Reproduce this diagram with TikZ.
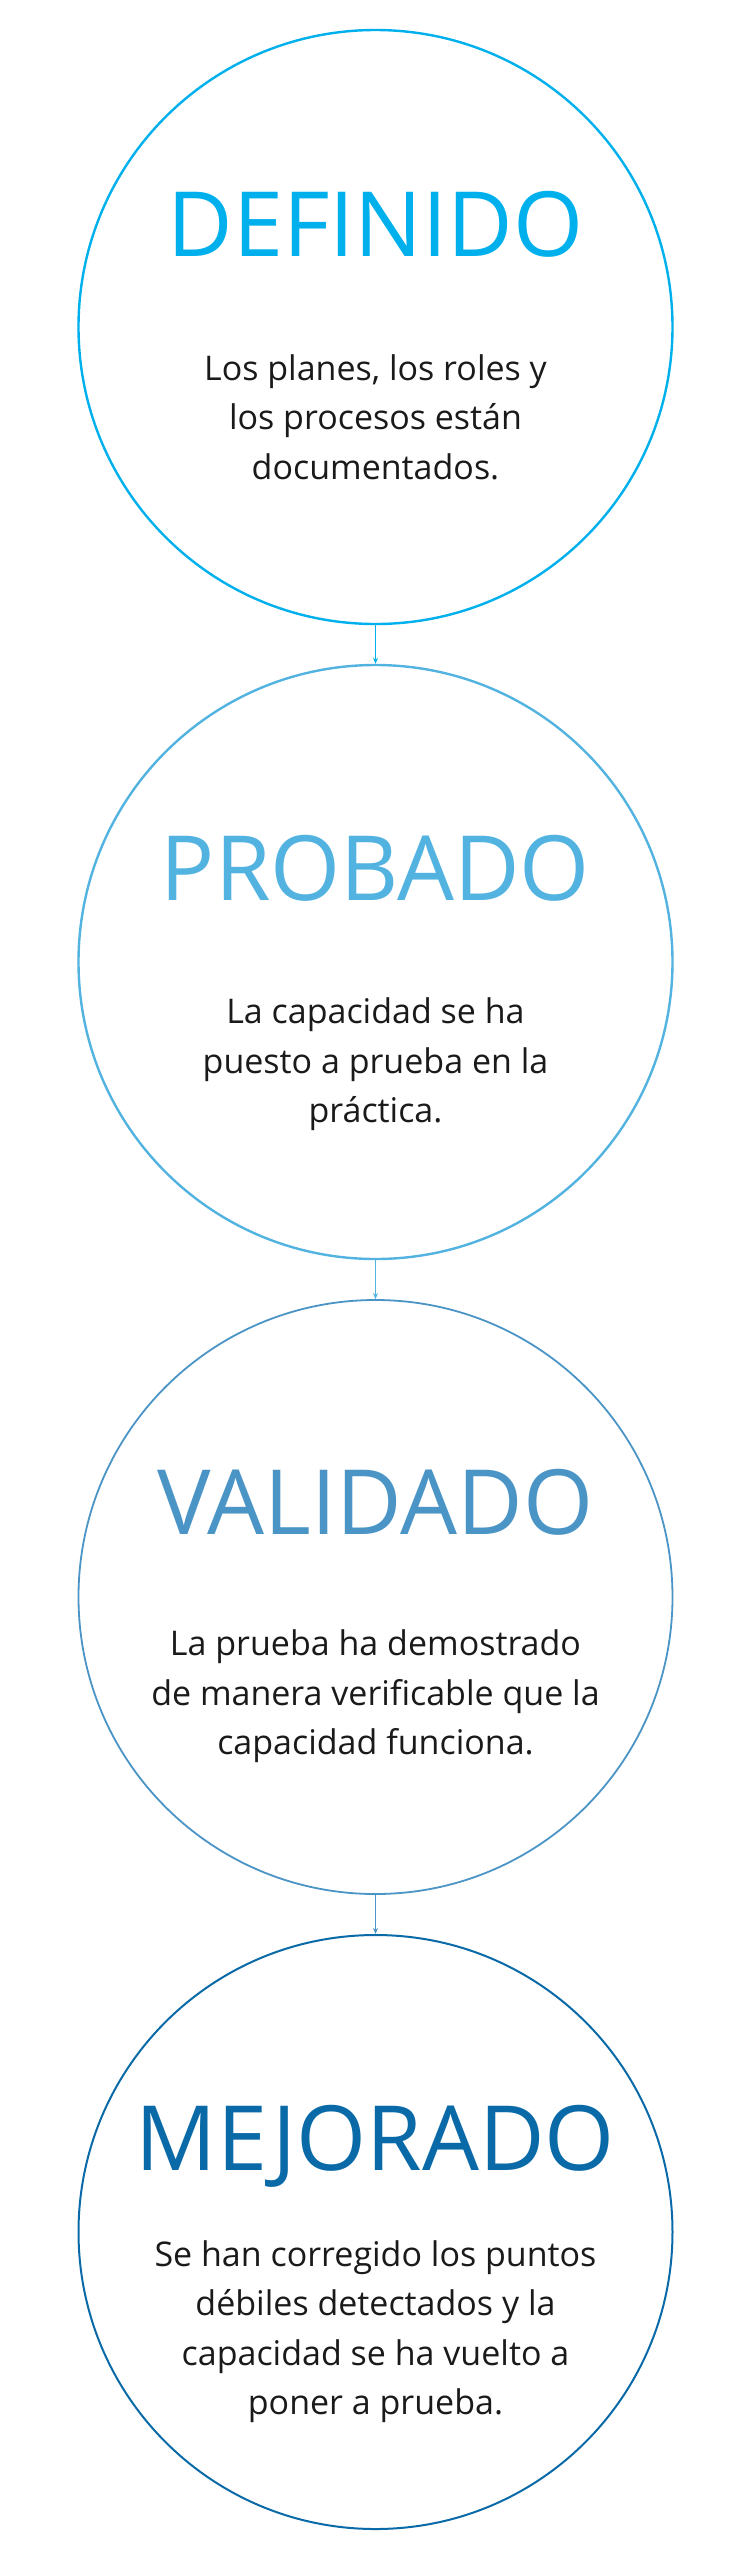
\documentclass[tikz,border=0pt]{standalone}
\usepackage{fontspec}
\setmainfont{Open Sans}
\usetikzlibrary{arrows.meta}
\definecolor{cA}{HTML}{00B0EC}
\definecolor{cB}{HTML}{52B3E0}
\definecolor{cC}{HTML}{4A94C6}
\definecolor{cD}{HTML}{0A6AA8}
\definecolor{txt}{HTML}{1A1A1A}
\tikzset{
  stage/.style={circle, draw, minimum size=594pt, inner sep=0pt},
  ttl/.style={anchor=base, inner sep=0pt, font=\fontsize{90}{100}\selectfont},
  body/.style={anchor=base, inner sep=0pt, text=txt, font=\fontsize{34}{49.5}\selectfont},
  link/.style={line width=1.2pt, -{Stealth[length=6pt,width=5pt]}}
}
\newcommand{\lines}[1]{\begin{tabular}[t]{@{}c@{}}#1\end{tabular}}
\begin{document}
\begin{tikzpicture}[x=1pt,y=-1pt]
\useasboundingbox (0,0) rectangle (751,2560);
\node[stage, draw=cA, line width=2.4pt] (c1) at (375.5,327) {};
\node[stage, draw=cB, line width=2.4pt] (c2) at (375.5,962) {};
\node[stage, draw=cC, line width=1.8pt] (c3) at (375.5,1597) {};
\node[stage, draw=cD, line width=2.0pt] (c4) at (375.5,2232) {};
\node[ttl, text=cA] (t1) at (375.5,256) {DEFINIDO};
\node[ttl, text=cB] (t2) at (375.5,900) {PROBADO};
\node[ttl, text=cC] (t3) at (375.5,1534.5) {VALIDADO};
\node[ttl, text=cD] (t4) at (375.5,2170) {MEJORADO};
\node[body] (b1) at (375.5,380) {\lines{Los planes, los roles y\\los procesos están\\documentados.}};
\node[body] (b2) at (375.5,1023.7) {\lines{La capacidad se ha\\puesto a prueba en la\\práctica.}};
\node[body] (b3) at (375.5,1655.7) {\lines{La prueba ha demostrado\\de manera verificable que la\\capacidad funciona.}};
\node[body] (b4) at (375.5,2266) {\lines{Se han corregido los puntos\\débiles detectados y la\\capacidad se ha vuelto a\\poner a prueba.}};
\draw[link, draw=cA, fill=cA] (c1.south) -- (c2.north);
\draw[link, draw=cB, fill=cB] (c2.south) -- (c3.north);
\draw[link, draw=cC, fill=cC] (c3.south) -- (c4.north);
\end{tikzpicture}
\end{document}
